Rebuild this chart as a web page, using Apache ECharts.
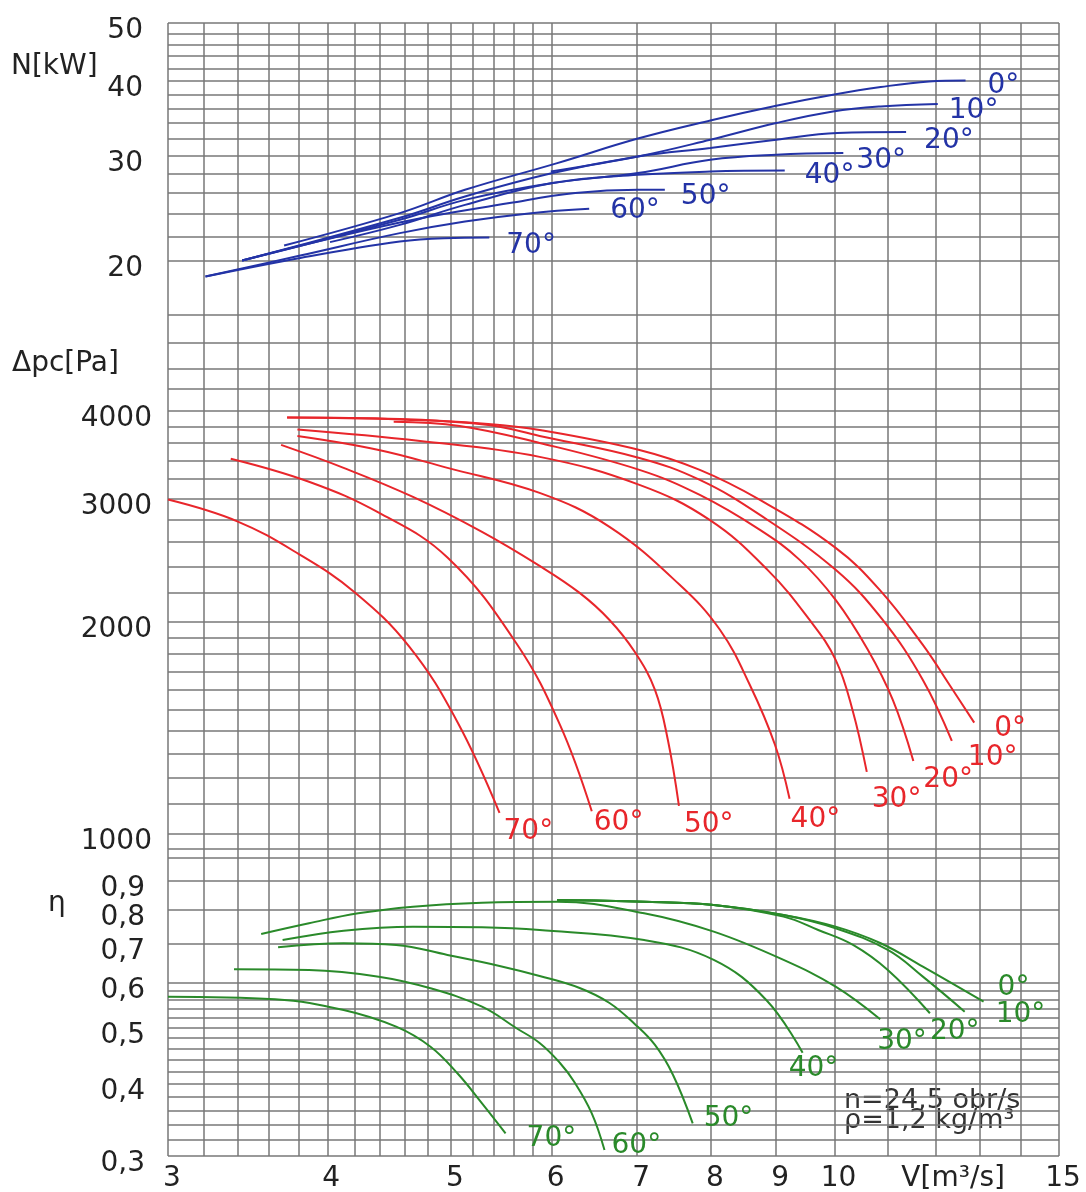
<!DOCTYPE html>
<html><head><meta charset="utf-8">
<script src="https://cdn.jsdelivr.net/npm/echarts@6/dist/echarts.min.js"></script>
<style>html,body{margin:0;padding:0;background:#fff}#c{width:1086px;height:1192px}</style>
</head><body><div id="c"></div>
<script>
const FONT = '"DejaVu Sans", sans-serif';
const angles = ['0°','10°','20°','30°','40°','50°','60°','70°'];

// grid lines (values) and tick labels
const xGridLines = [3,3.2,3.4,3.6,3.8,4,4.2,4.4,4.6,4.8,5,5.2,5.4,5.6,5.8,6,7,8,9,10,11,12,13,14,15];
const xTickLabels = [3,4,5,6,7,8,9,10,12.3,15];
const nGridLines = [16.25,20,22,24,26,28,30,32,34,36,38,40,42,44,46,48,50];
const nTickLabels = [20,30,40,50];
const pGridLines = [950,1000,1100,1200,1300,1400,1500,1600,1700,1800,1900,2000,2200,2400,2600,2800,3000,3200,3400,3600,3800,4000,4300,4600,5000];
const pTickLabels = [1000,2000,3000,4000];
const eGridLines = [0.3,0.32,0.34,0.36,0.38,0.4,0.42,0.44,0.46,0.48,0.5,0.52,0.54,0.56,0.58,0.6,0.7,0.8,0.9,0.985];
const eTickLabels = [0.3,0.4,0.5,0.6,0.7,0.8,0.9];

// N [kW] curves  [V, N]
const N0  = [[3.70,21.23],[4.56,24.05],[5.13,26.31],[6.06,29.16],[7.01,32.05],[7.99,34.36],[9.0,36.36],[9.97,37.93],[10.87,39.08],[11.86,39.93],[12.67,40.08]];
const N10 = [[5.99,28.23],[7.01,29.91],[7.99,31.9],[9.0,34.02],[9.97,35.57],[10.87,36.26],[12.05,36.6]];
const N20 = [[3.43,20.04],[4.56,23.62],[5.13,25.64],[6.01,28.06],[7.01,29.91],[7.99,30.9],[9.0,31.9],[10.05,32.73],[11.38,32.86]];
const N30 = [[3.43,20.04],[4.56,23.44],[5.13,25.31],[6.01,27.0],[7.01,28.06],[7.99,29.53],[9.0,30.11],[10.16,30.31]];
const N40 = [[4.02,21.51],[4.56,22.99],[5.13,24.83],[6.01,27.0],[7.01,27.87],[7.99,28.23],[9.14,28.34]];
const N50 = [[3.43,20.04],[4.56,23.2],[5.56,25.0],[6.26,25.98],[7.01,26.31],[7.36,26.31]];
const N60 = [[3.21,18.84],[3.81,20.43],[4.56,22.27],[5.13,23.29],[5.78,24.05],[6.42,24.45]];
const N70 = [[3.21,18.84],[3.81,20.24],[4.56,21.56],[4.94,21.84],[5.36,21.89]];

// Δpc [Pa] curves  [V, Δp]
const P0  = [[3.72,3915],[4.56,3896],[5.35,3833],[5.87,3758],[7.03,3519],[7.84,3296],[8.74,2987],[10.02,2552],[10.85,2223],[11.73,1856],[12.31,1627],[12.87,1438]];
const P10 = [[3.72,3915],[4.56,3890],[5.35,3820],[5.87,3685],[7.03,3428],[7.84,3189],[8.74,2843],[10.02,2374],[10.91,2014],[11.73,1654],[12.36,1354]];
const P20 = [[4.51,3861],[5.08,3808],[5.87,3601],[7.03,3296],[7.84,3036],[8.74,2707],[9.39,2453],[10.02,2151],[10.62,1826],[11.11,1549],[11.53,1268]];
const P30 = [[3.79,3764],[4.73,3625],[5.87,3440],[7.03,3138],[7.98,2797],[8.86,2374],[9.56,2014],[10.02,1767],[10.33,1499],[10.60,1223]];
const P40 = [[3.79,3685],[4.39,3519],[4.97,3318],[5.87,3056],[6.66,2734],[7.56,2260],[8.13,1950],[8.58,1628],[8.98,1337],[9.22,1120]];
const P50 = [[3.68,3578],[4.12,3318],[4.67,3016],[5.29,2689],[5.87,2405],[6.31,2201],[6.66,2014],[6.97,1814],[7.23,1601],[7.40,1359],[7.55,1094]];
const P60 = [[3.36,3419],[3.87,3170],[4.39,2864],[4.97,2472],[5.63,1864],[6.09,1427],[6.45,1075]];
const P70 = [[3.0,2990],[3.40,2784],[3.80,2500],[4.20,2208],[4.64,1844],[5.06,1441],[5.46,1069]];

// η curves  [V, η]
const E0  = [[6.06,0.8332],[7.09,0.8276],[8.04,0.8168],[9.12,0.7849],[10.02,0.749],[10.87,0.701],[11.73,0.6386],[13.09,0.5553]];
const E10 = [[6.06,0.8332],[7.09,0.8276],[8.04,0.8168],[9.12,0.7849],[10.02,0.7443],[11.01,0.6825],[11.73,0.6136],[12.65,0.5336]];
const E20 = [[6.06,0.8332],[7.09,0.8276],[8.04,0.8168],[9.12,0.7795],[9.71,0.739],[10.34,0.6964],[11.01,0.63],[11.88,0.5302]];
const E30 = [[3.55,0.7275],[3.87,0.7593],[4.23,0.7902],[4.67,0.8113],[5.29,0.8243],[6.06,0.8276],[7.09,0.7902],[8.04,0.7343],[9.12,0.656],[10.02,0.5896],[10.86,0.5177]];
const E40 = [[3.69,0.71],[4.12,0.7372],[4.67,0.749],[5.29,0.7472],[5.87,0.739],[7.09,0.71],[8.04,0.656],[8.84,0.5591],[9.44,0.453]];
const E50 = [[3.66,0.6899],[4.12,0.701],[4.53,0.6964],[4.97,0.6691],[5.46,0.6404],[5.87,0.6153],[6.31,0.5865],[6.66,0.5524],[6.97,0.508],[7.23,0.4672],[7.47,0.4145],[7.74,0.3418]];
const E60 = [[3.38,0.6319],[3.87,0.63],[4.39,0.6136],[4.82,0.5858],[5.29,0.5443],[5.63,0.4994],[5.87,0.4709],[6.09,0.4348],[6.25,0.4031],[6.45,0.3557],[6.60,0.3073]];
const E70 = [[3.0,0.5665],[3.64,0.5607],[4.12,0.5372],[4.53,0.5026],[4.82,0.464],[5.06,0.4173],[5.29,0.3702],[5.52,0.3284]];

// label offsets (style)
const nOff = [[22,5],[11,7],[18,9],[13,8],[20,5],[16,7],[21,2],[17,8]];
const pOff = [[20,6],[16,17],[10,19],[5,28],[1,21],[5,19],[2,11],[4,19]];
const eOff = [[14,-14],[31,3],[0,18],[-3,22],[-14,16],[11,-5],[7,-4],[21,5]];

const BLUE = '#2333a6', RED = '#e8262b', GREEN = '#2a8a2a', GRID = '#777777';
const gridLine = { show: true, lineStyle: { color: GRID, width: 1.5 } };

const grids = [
  { left: 168, width: 891, top: 23, height: 292 },
  { left: 168, width: 891, top: 315, height: 543 },
  { left: 168, width: 891, top: 858, height: 298 }
];

function xAx(i) {
  return {
    type: 'log', gridIndex: i, min: 3, max: 15,
    axisLine: { show: false },
    axisTick: { show: false, customValues: xGridLines },
    splitLine: gridLine,
    axisLabel: {
      show: i === 2, customValues: xTickLabels, margin: 9, padding: [0, 0, 0, 8],
      fontFamily: FONT, fontSize: 28, color: '#222',
      formatter: v => (Math.abs(v - 12.3) < 1e-6 ? 'V[m³/s]' : String(v))
    }
  };
}
function yAx(i, min, max, lines, labels, margin, fmt) {
  return {
    type: 'log', gridIndex: i, min: min, max: max,
    axisLine: { show: false },
    axisTick: { show: false, customValues: lines },
    splitLine: gridLine,
    axisLabel: {
      customValues: labels, margin: margin, verticalAlign: 'top', lineHeight: 16,
      fontFamily: FONT, fontSize: 28, color: '#222', formatter: fmt
    }
  };
}

const series = [];
function addCurves(arrs, offs, color, gi) {
  arrs.forEach((d, k) => {
    series.push({
      type: 'line', xAxisIndex: gi, yAxisIndex: gi, data: d,
      showSymbol: false, smooth: 0.4, silent: true,
      lineStyle: { color: color, width: 2 },
      endLabel: {
        show: true, formatter: angles[k], distance: 0, offset: offs[k],
        fontFamily: FONT, fontSize: 28, color: color
      }
    });
  });
}
addCurves([N0,N10,N20,N30,N40,N50,N60,N70], nOff, BLUE, 0);
addCurves([P0,P10,P20,P30,P40,P50,P60,P70], pOff, RED, 1);
addCurves([E0,E10,E20,E30,E40,E50,E60,E70], eOff, GREEN, 2);

const chart = echarts.init(document.getElementById('c'), null, { renderer: 'canvas' });
chart.setOption({
  animation: false,
  backgroundColor: '#fff',
  grid: grids.map(g => Object.assign({ containLabel: false, outerBoundsMode: 'none' }, g)),
  xAxis: [xAx(0), xAx(1), xAx(2)],
  yAxis: [
    yAx(0, 16.25, 50, nGridLines, nTickLabels, 25, v => String(v)),
    yAx(1, 922, 5480, pGridLines, pTickLabels, 16, v => String(v)),
    yAx(2, 0.3, 0.985, eGridLines, eTickLabels, 23, v => String(Math.round(v * 10) / 10).replace('.', ','))
  ],
  series: series,
  graphic: [
    { type: 'text', x: 11, y: 67, style: { text: 'N[kW]', font: '28px ' + FONT, fill: '#222', verticalAlign: 'middle' } },
    { type: 'text', x: 12, y: 364, style: { text: 'Δpc[Pa]', font: '28px ' + FONT, fill: '#222', verticalAlign: 'middle' } },
    { type: 'text', x: 48, y: 904, style: { text: 'η', font: '28px ' + FONT, fill: '#222', verticalAlign: 'middle' } },
    { type: 'text', x: 844, y: 1111, style: { text: 'n=24,5 obr/s\nρ=1,2 kg/m³', font: '27px ' + FONT, lineHeight: 20, fill: '#333', verticalAlign: 'middle' } }
  ]
});
</script></body></html>
